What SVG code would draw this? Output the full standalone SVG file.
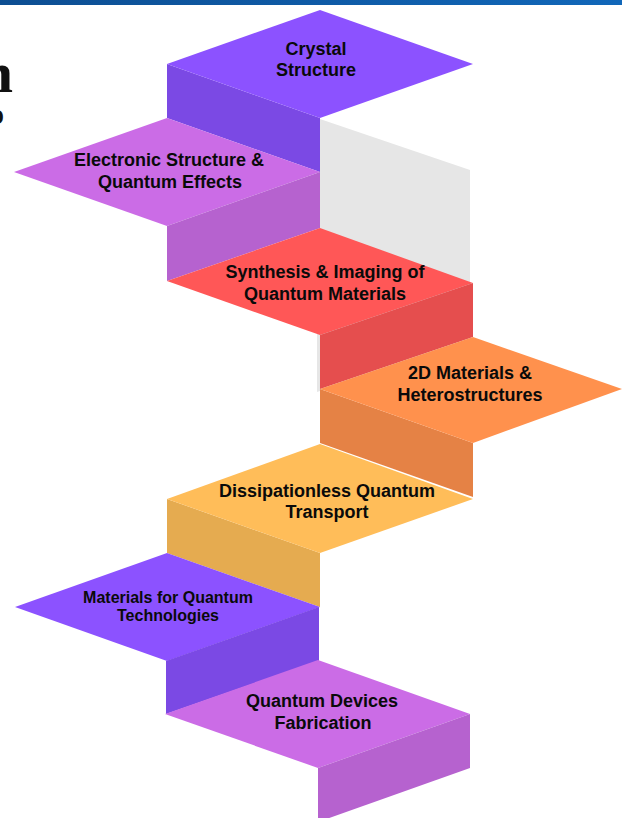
<svg xmlns="http://www.w3.org/2000/svg" width="622" height="818" viewBox="0 0 622 818">
  <defs>
    <linearGradient id="bar" x1="0" y1="0" x2="1" y2="0">
      <stop offset="0" stop-color="#0d4e92"/>
      <stop offset="1" stop-color="#1167b9"/>
    </linearGradient>
  </defs>
  <style>
    .lbl { font-family: "Liberation Sans", Arial, sans-serif; font-weight: 700; font-size: 18px; fill: #0a0a0a; text-anchor: middle; }
    .sm { font-size: 16px; }
    .ttl { font-family: "Liberation Serif", "Times New Roman", serif; font-weight: 700; fill: #111; text-anchor: end; }
    .purple { fill: #8c52ff; }
    .purple-d { fill: #7b49e4; }
    .pink { fill: #cb6ce6; }
    .pink-d { fill: #b662cf; }
    .red { fill: #ff5757; }
    .red-d { fill: #e54e4e; }
    .orange { fill: #ff914d; }
    .orange-d { fill: #e58245; }
    .yellow { fill: #ffbd59; }
    .yellow-d { fill: #e5ab50; }
    .wall { fill: #e6e6e6; }
  </style>
  <rect x="0" y="0" width="622" height="818" fill="#ffffff"/>
  <rect x="0" y="0" width="622" height="5" fill="url(#bar)"/>
  <text class="ttl" x="13" y="92" font-size="58">n</text>
  <text class="ttl" x="4" y="124" font-size="30">o</text>

  <polygon class="wall" points="317,118 470,170 470,340 317,392"/>

  <g id="step1">
    <polygon class="purple-d" points="167,64 320,118 320,172 167,118"/>
    <polygon class="purple" points="167,64 320,10 473,64 320,118"/>
    <text class="lbl" x="316" y="55">Crystal</text>
    <text class="lbl" x="316" y="76">Structure</text>
  </g>
  <g id="step2">
    <polygon class="pink" points="14,172 167,118 320,172 167,226"/>
    <polygon class="pink-d" points="167,226 320,172 320,228 167,281"/>
    <text class="lbl" x="169" y="166">Electronic Structure &amp;</text>
    <text class="lbl" x="170" y="188">Quantum Effects</text>
  </g>
  <g id="step3">
    <polygon class="red" points="167,281 320,228 473,283 320,335"/>
    <polygon class="red-d" points="320,335 473,283 473,337 320,389"/>
    <text class="lbl" x="325" y="278">Synthesis &amp; Imaging of</text>
    <text class="lbl" x="325" y="300">Quantum Materials</text>
  </g>
  <g id="step4">
    <polygon class="orange-d" points="320,389 473,443 473,497 320,443"/>
    <polygon class="orange" points="320,389 473,337 622,389 473,443"/>
    <text class="lbl" x="470" y="379">2D Materials &amp;</text>
    <text class="lbl" x="470" y="401">Heterostructures</text>
  </g>
  <g id="step5">
    <polygon class="yellow-d" points="167,499 320,553 320,607 167,553"/>
    <polygon class="yellow" points="167,499 320,444 473,499 320,553"/>
    <text class="lbl" x="327" y="497">Dissipationless Quantum</text>
    <text class="lbl" x="327" y="518">Transport</text>
  </g>
  <g id="step6">
    <polygon class="purple" points="15,607 167,553 320,607 167,661"/>
    <polygon class="purple-d" points="166,661 319,607 319,661 166,714"/>
    <text class="lbl sm" x="168" y="603">Materials for Quantum</text>
    <text class="lbl sm" x="168" y="621">Technologies</text>
  </g>
  <g id="step7">
    <polygon class="pink" points="165,714 318,660 470,714 318,768"/>
    <polygon class="pink-d" points="318,768 470,714 470,768 318,822"/>
    <text class="lbl" x="322" y="707">Quantum Devices</text>
    <text class="lbl" x="323" y="729">Fabrication</text>
  </g>
  <g id="connectors"></g>
</svg>
